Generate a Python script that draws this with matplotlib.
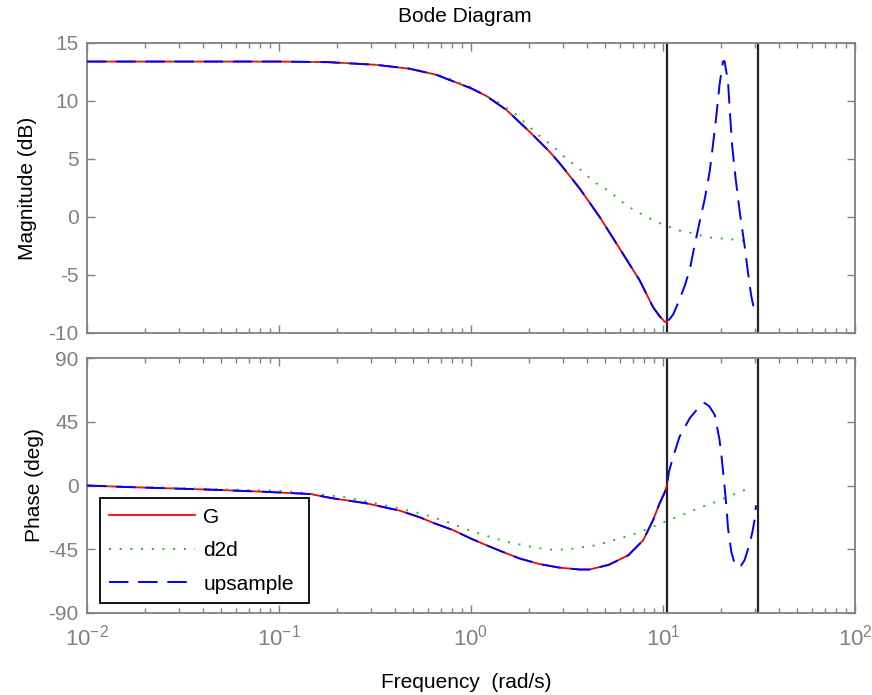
import numpy as np
import matplotlib
matplotlib.use("Agg")
import matplotlib.pyplot as plt
from matplotlib.ticker import LogLocator, FixedLocator, NullFormatter

plt.rcParams['font.family'] = ['Liberation Sans', 'DejaVu Sans']
plt.rcParams['mathtext.fontset'] = 'custom'
plt.rcParams['mathtext.rm'] = 'Liberation Sans'
plt.rcParams['axes.unicode_minus'] = False

# valeurs (rad/s, dB, deg)
g_freq = [0.01, 0.1, 0.18, 0.32, 0.48, 0.66, 1.0, 1.2, 1.53, 2.02, 2.57, 2.9,
          3.68, 4.68, 5.95, 7.57, 8.88, 9.6, 10.2, 10.47]
g_mag = [13.4, 13.4, 13.35, 13.12, 12.78, 12.26, 11.1, 10.44, 9.23, 7.35, 5.62, 4.62,
         2.46, 0.0, -2.73, -5.48, -7.78, -8.55, -9.02, -9.1]

g_pfreq = [0.01, 0.0155, 0.0455, 0.083, 0.145, 0.19, 0.286, 0.427, 0.542, 0.635, 0.807,
           1.0, 1.2, 1.41, 1.79, 2.28, 2.9, 3.68, 4.14, 5.22, 6.6, 7.89, 8.88, 9.6,
           10.2, 10.47]
g_phase = [0, -1, -3, -4.4, -6, -9, -12.6, -17.8, -22.5, -26.3, -31.5,
           -37.5, -42.1, -46, -51.5, -55.5, -58, -59.3, -59.3, -56, -49.2, -38.6, -24.4,
           -12.6, -5, 0]

d2d_freq = [0.01, 0.18, 0.32, 0.48, 0.66, 1.0, 1.36, 1.73, 2.19, 2.79, 3.14, 3.54,
            3.99, 4.5, 5.07, 5.71, 6.44, 7.26, 9.25, 10.4, 11.7, 13.2, 14.9, 16.8,
            18.9, 21.4, 24.1, 27.2, 28.0]
d2d_mag = [13.4, 13.35, 13.12, 12.8, 12.3, 11.2, 9.95, 8.8, 7.21, 5.83, 5.0, 4.41,
           3.6, 2.9, 2.37, 1.73, 1.01, 0.49, -0.43, -0.74, -1.1, -1.3, -1.44, -1.76,
           -1.8, -1.9, -1.95, -2.1, -2.12]

d2d_pfreq = [0.01, 0.1, 0.157, 0.225, 0.32, 0.46, 0.586, 0.746, 0.95, 1.2, 1.53, 1.94,
             2.47, 3.14, 3.54, 4.5, 5.71, 7.26, 8.2, 9.25, 10.4, 11.7, 13.2, 14.9,
             16.8, 18.9, 21.4, 24.1, 27.2, 28.0]
d2d_phase = [0, -3.8, -6, -8.4, -12.6, -17.3, -20.9, -25.6, -31, -35.5, -39.7, -42.6,
             -45.2, -45.2, -44.2, -42.1, -38.1, -33.8, -31, -28, -25.1, -22.5, -19.7, -16.8,
             -14, -11.5, -8.4, -5.5, -2.7, -2.0]

# upsample : identique a G jusqu'a Nyquist, puis repliement
up_freq = g_freq + [11.3, 12.2, 13.0, 13.8, 14.6, 15.5, 16.5, 17.5, 18.2, 18.9, 19.7,
                    20.5, 20.9, 21.8, 22.3, 22.9, 23.9, 25.1, 26.6, 27.7, 28.8, 30.0, 30.5]
up_mag = g_mag + [-8.4, -7.1, -5.9, -4.5, -2.47, -0.46, 1.56, 3.9, 6.2, 8.5, 11.4,
                  13.4, 13.45, 11.7, 9.1, 6.2, 3.3, 0.44, -2.47, -4.77, -6.78, -8.2, -8.5]

up_pfreq = g_pfreq + [10.75, 11.3, 12.2, 13.8, 15.0, 15.8, 16.5, 17.4, 18.6, 19.7, 20.2,
                      20.9, 21.4, 21.8, 22.7, 23.6, 24.5, 25.5, 26.6, 28.3, 29.3, 30.0, 30.5]
up_phase = g_phase + [10, 20.4, 34.5, 47.6, 53.5, 57, 58.2, 56, 49.9, 32.2, 20,
                      0, -15, -30, -47, -55, -57.5, -56.5, -52.7, -40.9, -32, -24, -14]

nyquist = [10.47, 31.42]

W, H = 872, 695
fig = plt.figure(figsize=(W / 100, H / 100), dpi=100)
ax1 = fig.add_axes([87 / W, 1 - 333 / H, 768 / W, 290 / H])
ax2 = fig.add_axes([87 / W, 1 - 613 / H, 768 / W, 255 / H], sharex=ax1)

gris = '#808080'
for ax in (ax1, ax2):
    ax.set_xscale('log')
    ax.set_xlim(1e-2, 1e2)
    for s in ax.spines.values():
        s.set_color(gris)
        s.set_linewidth(1.3)
    ax.tick_params(which='both', direction='in', top=True, right=True,
                   colors=gris, labelsize=15, width=1.0, pad=6)
    ax.tick_params(which='major', length=6)
    ax.tick_params(which='minor', length=3.5)
    ax.xaxis.set_major_locator(LogLocator(base=10, numticks=10))
    ax.xaxis.set_minor_locator(LogLocator(base=10, subs=np.arange(2, 10), numticks=10))
    ax.xaxis.set_minor_formatter(NullFormatter())
    for f in nyquist:
        ax.axvline(f, color='#222222', lw=1.6, zorder=1)

ax1.plot(g_freq, g_mag, color='red', lw=1.3, zorder=2)
ax1.plot(d2d_freq, d2d_mag, color='#22bb22', lw=1.4, linestyle=(0, (1, 4.5)), zorder=3)
ax1.plot(up_freq, up_mag, color='blue', lw=1.4, linestyle=(0, (10, 5)), zorder=4)
ax1.set_ylim(-10, 15)
ax1.yaxis.set_major_locator(FixedLocator([-10, -5, 0, 5, 10, 15]))
ax1.tick_params(axis='x', labelbottom=False)
ax1.set_ylabel('Magnitude (dB)', fontsize=15, labelpad=8)

ax2.plot(g_pfreq, g_phase, color='red', lw=1.3, zorder=2, label='G')
ax2.plot(d2d_pfreq, d2d_phase, color='#22bb22', lw=1.4, linestyle=(0, (1, 4.5)),
         zorder=3, label='d2d')
ax2.plot(up_pfreq, up_phase, color='blue', lw=1.4, linestyle=(0, (10, 5)),
         zorder=4, label='upsample')
ax2.set_ylim(-90, 90)
ax2.yaxis.set_major_locator(FixedLocator([-90, -45, 0, 45, 90]))
ax2.set_ylabel('Phase (deg)', fontsize=15, labelpad=3)
ax2.tick_params(axis='x', labelsize=16, pad=8)

leg = ax2.legend(loc='lower left', bbox_to_anchor=(0.017, 0.039, 0.272, 0.42),
                 mode='expand', borderaxespad=0,
                 fontsize=15, handlelength=4.1, handletextpad=0.4, labelspacing=0.7,
                 fancybox=False, framealpha=1, borderpad=0.45)
leg.get_frame().set_edgecolor('black')
leg.get_frame().set_linewidth(1.3)

fig.text(465 / W, 1 - 17 / H, 'Bode Diagram', ha='center', va='center', fontsize=15)
fig.text(466 / W, 1 - 683 / H, 'Frequency  (rad/s)', ha='center', va='center', fontsize=15)

fig.savefig('out.png', dpi=100)
